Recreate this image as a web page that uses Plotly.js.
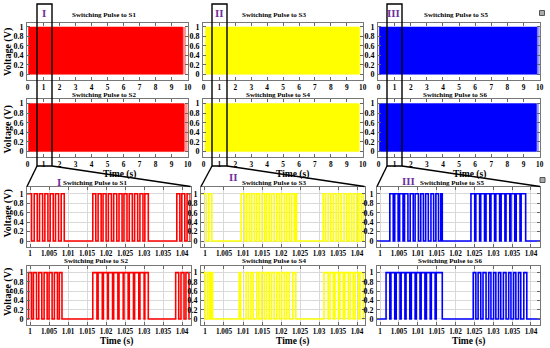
<!DOCTYPE html>
<html><head><meta charset="utf-8">
<script src="https://cdn.plot.ly/plotly-3.0.1.min.js"></script>
<style>html,body{margin:0;padding:0;background:#fff}#chart{width:550px;height:348px}</style>
</head><body><div id="chart"></div>
<script>
// ---------------- data ----------------
const switchNames = ['S1', 'S2', 'S3', 'S4', 'S5', 'S6'];
const switchColors = ['#FF0000', '#FF0000', '#FFFF00', '#FFFF00', '#0000FF', '#0000FF'];
const zoomLabels = ['I', 'II', 'III'];

// overview (0-10 s): the pulse train is so dense that it reads as a solid band
const bandStart = [0.06, 0.06, 0.12, 0.10, 0.05, 0.05];
const bandEnd = [9.70, 9.78, 9.80, 9.77, 9.83, 9.80];
const bandFadeEnd = [9.90, 10.0, 9.90, 9.85, 10.0, 9.95];

const topTickVals = [0, 1, 2, 3, 4, 5, 6, 7, 8, 9, 10];
const zoomTickVals = [1, 1.005, 1.01, 1.015, 1.02, 1.025, 1.03, 1.035, 1.04];
const zoomTickText = ['1', '1.005', '1.01', '1.015', '1.02', '1.025', '1.03', '1.035', '1.04'];
const yTickVals = [0, 0.2, 0.4, 0.6, 0.8, 1];
const yTickText = ['0', '0.2', '0.4', '0.6', '0.8', '1'];

// zoomed window (about 1 s to 1.042 s): rising / falling edge times
const s1On  = [0.9988, 1.0011, 1.0025, 1.0039, 1.0053, 1.0067, 1.0082, 1.0165, 1.0179, 1.0192, 1.0206, 1.0220, 1.0234, 1.0247, 1.0261, 1.0275, 1.0289, 1.0302, 1.0386, 1.0399, 1.0413];
const s1Off = [1.0004, 1.0019, 1.0033, 1.0047, 1.0061, 1.0075, 1.0090, 1.0173, 1.0187, 1.0200, 1.0214, 1.0228, 1.0242, 1.0255, 1.0269, 1.0283, 1.0297, 1.0311, 1.0394, 1.0407, 1.0421];
const s2On  = [0.9996, 1.0009, 1.0023, 1.0037, 1.0050, 1.0064, 1.0077, 1.0165, 1.0179, 1.0193, 1.0206, 1.0220, 1.0234, 1.0247, 1.0261, 1.0275, 1.0289, 1.0302, 1.0383, 1.0397, 1.0410];
const s2Off = [1.0004, 1.0017, 1.0031, 1.0045, 1.0058, 1.0072, 1.0084, 1.0176, 1.0190, 1.0204, 1.0217, 1.0231, 1.0245, 1.0258, 1.0272, 1.0286, 1.0300, 1.0311, 1.0391, 1.0405, 1.0418];
const s3On  = [0.9985, 1.0010, 1.0095, 1.0110, 1.0123, 1.0136, 1.0150, 1.0162, 1.0175, 1.0189, 1.0202, 1.0215, 1.0228, 1.0237, 1.0311, 1.0324, 1.0338, 1.0351, 1.0366, 1.0379, 1.0392, 1.0405, 1.0418];
const s3Off = [1.0003, 1.0018, 1.0104, 1.0117, 1.0130, 1.0143, 1.0157, 1.0169, 1.0182, 1.0196, 1.0209, 1.0222, 1.0235, 1.0241, 1.0317, 1.0331, 1.0345, 1.0358, 1.0373, 1.0386, 1.0399, 1.0412, 1.0430];
const s4On  = [0.9985, 1.0007, 1.0016, 1.0090, 1.0108, 1.0121, 1.0136, 1.0149, 1.0162, 1.0175, 1.0189, 1.0202, 1.0215, 1.0231, 1.0313, 1.0329, 1.0342, 1.0355, 1.0368, 1.0382, 1.0395, 1.0408, 1.0420];
const s4Off = [1.0001, 1.0012, 1.0020, 1.0094, 1.0114, 1.0127, 1.0142, 1.0156, 1.0169, 1.0182, 1.0196, 1.0209, 1.0222, 1.0239, 1.0324, 1.0338, 1.0351, 1.0364, 1.0377, 1.0390, 1.0404, 1.0417, 1.0430];
const s5On  = [1.0026, 1.0039, 1.0052, 1.0065, 1.0080, 1.0093, 1.0108, 1.0121, 1.0135, 1.0148, 1.0161, 1.0241, 1.0254, 1.0267, 1.0281, 1.0294, 1.0307, 1.0321, 1.0334, 1.0347, 1.0361, 1.0374];
const s5Off = [1.0035, 1.0048, 1.0061, 1.0074, 1.0088, 1.0102, 1.0115, 1.0128, 1.0142, 1.0155, 1.0165, 1.0251, 1.0264, 1.0277, 1.0291, 1.0304, 1.0317, 1.0331, 1.0344, 1.0357, 1.0371, 1.0386];
const s6On  = [1.0016, 1.0029, 1.0043, 1.0056, 1.0069, 1.0083, 1.0096, 1.0109, 1.0123, 1.0136, 1.0149, 1.0247, 1.0260, 1.0273, 1.0288, 1.0301, 1.0314, 1.0327, 1.0341, 1.0354, 1.0367, 1.0381];
const s6Off = [1.0026, 1.0039, 1.0053, 1.0066, 1.0079, 1.0093, 1.0106, 1.0119, 1.0133, 1.0146, 1.0165, 1.0254, 1.0267, 1.0281, 1.0294, 1.0307, 1.0320, 1.0334, 1.0347, 1.0360, 1.0373, 1.0389];
const pulseOn = [s1On, s2On, s3On, s4On, s5On, s6On];
const pulseOff = [s1Off, s2Off, s3Off, s4Off, s5Off, s6Off];

// ---------------- layout geometry (pixels) ----------------
const W = 550, H = 348;
const FONT = 'Liberation Serif, Times New Roman, serif';
const topCols = [[27, 188], [203, 363], [378, 540]];
const botCols = [[27, 190.5], [201, 364.5], [377, 540]];
const rowsPx = [[22.7, 80], [99.3, 157.3], [186.5, 246.7], [265.5, 324.5]];
const zoomRanges = [[0.9992, 1.0422], [0.99895, 1.04197], [0.9992, 1.0424]];
const px = x => x / W;
const py = y => 1 - y / H;

const data = [];
const layout = {
  width: W, height: H, margin: {l: 0, r: 0, t: 0, b: 0},
  paper_bgcolor: '#fff', plot_bgcolor: '#fff', showlegend: false,
  annotations: [], shapes: []
};

function tickFont(s) { return {family: FONT, size: s, color: '#000', weight: 700}; }

function addAxes(n, xdom, ydom, xrange, xvals, xtext, grid) {
  const xs = n === 1 ? '' : String(n);
  layout['xaxis' + xs] = {
    domain: [px(xdom[0]), px(xdom[1])], range: xrange, anchor: 'y' + xs,
    tickmode: 'array', tickvals: xvals, ticktext: xtext,
    ticks: 'inside', ticklen: 3, tickcolor: '#666', tickwidth: 1,
    showline: true, linecolor: '#777', linewidth: 1, mirror: 'ticks',
    showgrid: grid, gridcolor: '#d9d9d9', gridwidth: 1, zeroline: false,
    tickfont: tickFont(grid ? 7.2 : 7.3), fixedrange: true, ticklabelstandoff: 0
  };
  layout['yaxis' + xs] = {
    domain: [py(ydom[1]), py(ydom[0])], range: grid ? [-0.12, 1.155] : [-0.12, 1.09], anchor: 'x' + xs,
    tickmode: 'array', tickvals: yTickVals, ticktext: yTickText,
    ticks: 'inside', ticklen: 3, tickcolor: '#666', tickwidth: 1,
    showline: true, linecolor: '#777', linewidth: 1, mirror: 'ticks',
    showgrid: grid, gridcolor: '#d9d9d9', gridwidth: 1, zeroline: false,
    tickfont: tickFont(8), fixedrange: true, ticklabelstandoff: 1
  };
}

for (let i = 0; i < 6; i++) {
  const col = Math.floor(i / 2), r = i % 2;
  // overview panel
  const nTop = i + 1, sTop = nTop === 1 ? '' : String(nTop);
  addAxes(nTop, topCols[col], rowsPx[r], [-0.03, 10.02], topTickVals, topTickVals.map(String), false);
  data.push({
    type: 'scatter', mode: 'lines', xaxis: 'x' + sTop, yaxis: 'y' + sTop,
    x: [bandStart[i], bandStart[i], bandEnd[i], bandEnd[i], bandStart[i]],
    y: [0, 1, 1, 0, 0], fill: 'toself', fillcolor: switchColors[i],
    line: {width: 0.5, color: switchColors[i]}, hoverinfo: 'skip'
  });
  data.push({
    type: 'scatter', mode: 'lines', xaxis: 'x' + sTop, yaxis: 'y' + sTop,
    x: [bandEnd[i], bandEnd[i], bandFadeEnd[i], bandFadeEnd[i], bandEnd[i]],
    y: [0, 1, 1, 0, 0], fill: 'toself', fillcolor: switchColors[i], opacity: 0.4,
    line: {width: 0}, hoverinfo: 'skip'
  });
  // zoomed panel
  const nBot = i + 7, sBot = String(nBot);
  addAxes(nBot, botCols[col], rowsPx[r + 2], zoomRanges[col], zoomTickVals, zoomTickText, true);
  const xs = [0.99], ys = [0];
  pulseOn[i].forEach((t, k) => {
    xs.push(t, t, pulseOff[i][k], pulseOff[i][k]);
    ys.push(0, 1, 1, 0);
  });
  xs.push(1.05); ys.push(0);
  data.push({
    type: 'scatter', mode: 'lines', xaxis: 'x' + sBot, yaxis: 'y' + sBot,
    x: xs, y: ys, line: {color: switchColors[i], width: 1.6}, hoverinfo: 'skip'
  });
}

function ann(text, x, y, size, opts) {
  layout.annotations.push(Object.assign({
    text: text, xref: 'paper', yref: 'paper', x: px(x), y: py(y),
    xanchor: 'center', yanchor: 'middle', showarrow: false, borderpad: 0,
    font: {family: FONT, size: size, color: '#000', weight: 700}
  }, opts || {}));
}

// panel titles
const topTitlePos = [[103.5, 15], [103.5, 94.5], [274, 15], [277.5, 94.5], [456, 15], [455, 94.5]];
const botTitlePos = [[95, 183.3], [96, 260.5], [274, 182.7], [274, 260.7], [452, 183.3], [449.5, 260.7]];
for (let i = 0; i < 6; i++) {
  ann('Switching Pulse to ' + switchNames[i], topTitlePos[i][0], topTitlePos[i][1], 7);
  ann('Switching Pulse to ' + switchNames[i], botTitlePos[i][0], botTitlePos[i][1], 7);
}
// axis titles
[52.5, 130, 214, 292.5].forEach(y => ann('Voltage (V)', 7.5, y, 10, {textangle: -90}));
[[119, 174], [292, 174], [469, 174], [116.7, 341.5], [292.5, 341.5], [468, 341.5]].forEach(p => ann('Time (s)', p[0], p[1], 9.5));

// zoom markers
const purple = '#7030A0';
const rectPx = [[37, 52], [212, 227], [387, 402]];
const topLabelPos = [[44, 13], [219, 13], [393.5, 13]];
const botLabelPos = [[58.5, 182], [233.5, 177], [408.5, 181]];
for (let c = 0; c < 3; c++) {
  const [a, b] = rectPx[c];
  layout.shapes.push({type: 'rect', xref: 'paper', yref: 'paper', x0: px(a), x1: px(b), y0: py(166), y1: py(4), line: {color: '#000', width: 1.4}, layer: 'above'});
  layout.shapes.push({type: 'line', xref: 'paper', yref: 'paper', x0: px(a), y0: py(166), x1: px(botCols[c][0]), y1: py(186.5), line: {color: '#000', width: 1.4}, layer: 'above'});
  layout.shapes.push({type: 'line', xref: 'paper', yref: 'paper', x0: px(b), y0: py(166), x1: px(botCols[c][1]), y1: py(186.5), line: {color: '#000', width: 1.4}, layer: 'above'});
  ann(zoomLabels[c], topLabelPos[c][0], topLabelPos[c][1], 11, {font: {family: FONT, size: 11, color: purple, weight: 700}});
  ann(zoomLabels[c], botLabelPos[c][0], botLabelPos[c][1], 11, {font: {family: FONT, size: 11, color: purple, weight: 700}});
}
// small corner icons
[[542, 13], [542.5, 180]].forEach(p => {
  layout.shapes.push({type: 'rect', xref: 'paper', yref: 'paper', x0: px(p[0] - 2.5), x1: px(p[0] + 2.5), y0: py(p[1] + 2.5), y1: py(p[1] - 2.5), line: {color: '#555', width: 1}, fillcolor: '#aaa'});
});

Plotly.newPlot('chart', data, layout, {staticPlot: true, displayModeBar: false});
</script>
</body></html>
